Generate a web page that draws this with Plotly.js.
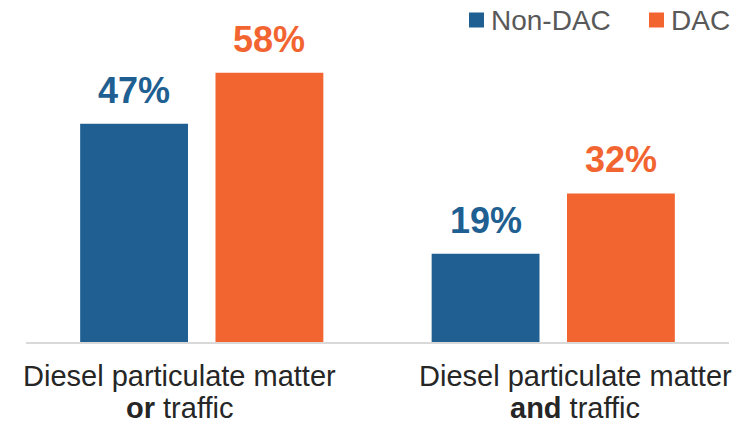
<!DOCTYPE html>
<html>
<head>
<meta charset="utf-8">
<script src="https://cdn.plot.ly/plotly-3.0.1.min.js"></script>
<style>
  html, body { margin: 0; padding: 0; background: #ffffff; }
  #chart { width: 748px; height: 425px; }
</style>
</head>
<body>
<div id="chart"></div>
<script>
// Share of residents exposed, by group
const categories = ['dpm_or_traffic', 'dpm_and_traffic'];
const catLine1 = ['Diesel particulate matter', 'Diesel particulate matter'];
const catLine2 = ['<b>or</b> traffic', '<b>and</b> traffic'];
const seriesNames = ['Non-DAC', 'DAC'];
const nonDac = [47, 19];
const dac = [58, 32];
const seriesColors = ['#1F5F91', '#F26531'];

const W = 748, H = 425;
const margin = { l: 26, r: 19, t: 17, b: 83, autoexpand: false };
const bargap = 0.23, bargroupgap = 0.203;
const plotW = W - margin.l - margin.r;
const plotH = H - margin.t - margin.b;
const pxPerCat = plotW / categories.length;
// centre of each bar relative to its category centre, in px
const slot = (1 - bargap) / 2;
const barShift = slot / 2 * pxPerCat;
// category captions sit slightly outward from their bar groups
const captionShift = [-22, 22];

// pixel -> paper helpers for the key drawn in the top-right corner
const px2x = p => (p - margin.l) / plotW;
const px2y = p => (H - margin.b - p) / plotH;
const keyLeft = [469, 649];   // left edge of each key swatch
const keySize = 15, keyTop = 12.5;

const values = [nonDac, dac];
const traces = values.map((vals, i) => ({
  type: 'bar',
  name: seriesNames[i],
  x: categories,
  y: vals,
  marker: { color: seriesColors[i], line: { width: 0 } },
  hoverinfo: 'skip'
}));

const annotations = [];
const shapes = [];
values.forEach((vals, i) => {
  vals.forEach((v, j) => {
    annotations.push({
      x: categories[j], y: v, xref: 'x', yref: 'y',
      text: '<b>' + v + '%</b>',
      showarrow: false,
      xshift: (i === 0 ? -1 : 1) * barShift,
      yanchor: 'bottom', yshift: 11,
      font: { family: 'Liberation Sans, Arial, sans-serif', size: 36, color: seriesColors[i] }
    });
  });
});
categories.forEach((c, j) => {
  annotations.push({
    x: c, y: 0, xref: 'x', yref: 'y', text: catLine1[j], showarrow: false,
    xshift: captionShift[j], yanchor: 'top', yshift: -16,
    font: { family: 'Liberation Sans, Arial, sans-serif', size: 29, color: '#262626' }
  });
  annotations.push({
    x: c, y: 0, xref: 'x', yref: 'y', text: catLine2[j], showarrow: false,
    xshift: captionShift[j], yanchor: 'top', yshift: -48,
    font: { family: 'Liberation Sans, Arial, sans-serif', size: 29, color: '#262626' }
  });
});

// key: coloured swatch plus series name
seriesNames.forEach((name, i) => {
  shapes.push({
    type: 'rect', xref: 'paper', yref: 'paper',
    x0: px2x(keyLeft[i]), x1: px2x(keyLeft[i] + keySize),
    y0: px2y(keyTop + keySize), y1: px2y(keyTop),
    fillcolor: seriesColors[i], line: { width: 0 }, layer: 'above'
  });
  annotations.push({
    x: px2x(keyLeft[i] + keySize + 5), y: px2y(keyTop + keySize / 2),
    xref: 'paper', yref: 'paper', xanchor: 'left', yanchor: 'middle',
    text: name, showarrow: false,
    font: { family: 'Liberation Sans, Arial, sans-serif', size: 28, color: '#595959' }
  });
});

const layout = {
  width: W, height: H,
  margin: margin,
  paper_bgcolor: '#ffffff',
  plot_bgcolor: '#ffffff',
  barmode: 'group',
  bargap: bargap,
  bargroupgap: bargroupgap,
  showlegend: false,
  xaxis: {
    range: [-0.5, 1.5],
    showticklabels: false,
    ticks: '',
    showgrid: false,
    zeroline: false,
    showline: true,
    linecolor: '#D9D9D9',
    linewidth: 2,
    fixedrange: true
  },
  yaxis: {
    range: [0, 70],
    visible: false,
    showgrid: false,
    zeroline: false,
    fixedrange: true
  },
  shapes: shapes,
  annotations: annotations
};

Plotly.newPlot('chart', traces, layout, { displayModeBar: false, staticPlot: true });
</script>
</body>
</html>
